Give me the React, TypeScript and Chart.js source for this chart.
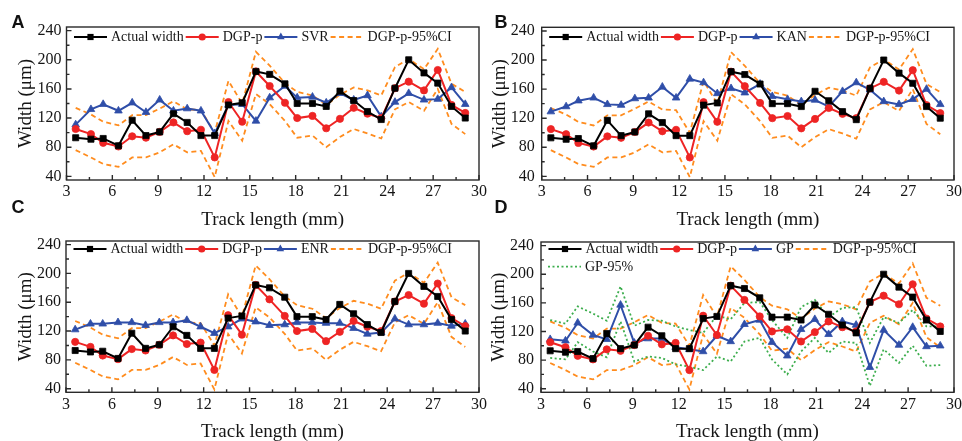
import React, { useEffect, useRef } from "react";
import { Chart, registerables } from "chart.js";

Chart.register(...registerables);

// ---------- data ----------
const trackLength = [3.6, 4.6, 5.4, 6.4, 7.3, 8.2, 9.1, 10.0, 10.9, 11.8, 12.7, 13.6, 14.5, 15.4, 16.3, 17.3, 18.1, 19.1, 20.0, 20.9, 21.8, 22.7, 23.6, 24.5, 25.4, 26.4, 27.3, 28.2, 29.1];
const actualWidth = [93, 91, 92, 82, 117, 96, 101, 126, 114, 96, 96, 138, 141, 184, 180, 167, 140, 140, 136, 157, 144, 129, 118, 161, 200, 182, 168, 136, 120];
const dgpP = [105, 98, 86, 81, 95, 93, 101, 114, 102, 104, 66, 142, 115, 184, 164, 141, 120, 123, 106, 119, 134, 126, 120, 161, 170, 158, 186, 138, 127];
const dgpUpper = [134, 125, 115, 110, 124, 124, 133, 143, 132, 131, 100, 171, 140, 211, 192, 168, 156, 151, 138, 152, 162, 158, 151, 190, 201, 187, 215, 167, 156];
const dgpLower = [76, 66, 57, 53, 66, 66, 73, 84, 73, 75, 39, 116, 89, 153, 139, 116, 93, 96, 80, 94, 105, 99, 92, 132, 142, 130, 160, 112, 98];
const svr = [111, 132, 139, 130, 141, 128, 145, 130, 133, 130, 99, 138, 139, 116, 148, 164, 148, 149, 141, 154, 145, 151, 122, 142, 154, 145, 146, 162, 139];
const kan = [129, 136, 144, 148, 139, 138, 147, 148, 163, 148, 174, 169, 154, 161, 155, 167, 150, 146, 143, 145, 136, 157, 169, 159, 143, 139, 146, 160, 139];
const enr = [122, 130, 130, 132, 132, 128, 132, 132, 135, 126, 117, 126, 137, 133, 128, 129, 132, 132, 131, 131, 124, 116, 118, 137, 129, 129, 131, 127, 130];
const gp = [109, 107, 132, 115, 109, 157, 104, 110, 110, 98, 95, 92, 114, 106, 130, 136, 105, 86, 123, 137, 116, 134, 129, 70, 122, 101, 126, 99, 100];
const gpUpper = [136, 131, 155, 145, 135, 183, 128, 136, 135, 127, 122, 118, 142, 137, 160, 161, 136, 111, 154, 164, 140, 153, 154, 104, 140, 132, 150, 127, 127];
const gpLower = [83, 81, 105, 92, 84, 134, 78, 85, 83, 74, 71, 66, 85, 78, 106, 111, 81, 60, 92, 111, 90, 106, 104, 44, 95, 76, 100, 72, 73];

const xTicks = [3, 6, 9, 12, 15, 18, 21, 24, 27, 30];
const yTicks = [40, 80, 120, 160, 200, 240];

const xTitle = "Track length (mm)";
const yTitle = "Width (\u03bcm)";

// ---------- styles ----------
const BLACK = "#000000";
const RED = "#EE2424";
const BLUE = "#2F4EA8";
const ORANGE = "#FF8C1E";
const GREEN = "#3DAE4E";
const FRAME = "#2a2a2a";
const TEXT = "#151515";
const SERIF = '"Liberation Serif", "Times New Roman", serif';
const TICK_SIZE = 16;
const TITLE_SIZE = 19;
const LEGEND_SIZE = 14;
const DASH = [5, 3.5];
const DOT = [2, 2.5];

type Marker = "rect" | "circle" | "triangle" | "none";
interface LegendItem { label: string; color: string; marker: Marker; dash?: number[]; row: number; }
interface PanelCfg {
  letter: string;
  model: string;
  modelValues: number[];
  withGpBand: boolean;
  canvas: { x: number; y: number; w: number; h: number };
  plot: { l: number; r: number; t: number; b: number };
  yTitleGap: number;
  yTickPad: number;
  legendY: number;
  letterPos: { x: number; y: number };
}

const panels: PanelCfg[] = [
  { letter: "A", model: "SVR", modelValues: svr, withGpBand: false,
    canvas: { x: 0, y: 0, w: 495, h: 240 }, plot: { l: 66.5, r: 479, t: 27, b: 180 },
    yTitleGap: 40, yTickPad: 5, legendY: 37, letterPos: { x: 11.5, y: 12.6 } },
  { letter: "B", model: "KAN", modelValues: kan, withGpBand: false,
    canvas: { x: 470, y: 0, w: 500, h: 240 }, plot: { l: 541.7, r: 954, t: 27.3, b: 180 },
    yTitleGap: 42, yTickPad: 7, legendY: 37, letterPos: { x: 494.5, y: 12.6 } },
  { letter: "C", model: "ENR", modelValues: enr, withGpBand: false,
    canvas: { x: 0, y: 205, w: 495, h: 250 }, plot: { l: 66, r: 479, t: 241, b: 392.3 },
    yTitleGap: 40, yTickPad: 5, legendY: 249, letterPos: { x: 11.5, y: 197.6 } },
  { letter: "D", model: "GP", modelValues: gp, withGpBand: true,
    canvas: { x: 470, y: 205, w: 500, h: 250 }, plot: { l: 541, r: 954, t: 242, b: 392.3 },
    yTitleGap: 42, yTickPad: 7, legendY: 249, letterPos: { x: 494.5, y: 197.6 } },
];

function series(label: string, values: number[], color: string, marker: Marker, dash?: number[]) {
  const radius = marker === "rect" ? 4.3 : marker === "triangle" ? 4.4 : marker === "circle" ? 3.6 : 0;
  return {
    label,
    data: trackLength.map((x, i) => ({ x, y: values[i] })),
    borderColor: color,
    backgroundColor: color,
    borderWidth: dash ? 1.8 : 2,
    borderDash: dash || [],
    pointRadius: radius,
    pointStyle: marker === "none" ? "circle" : marker,
    pointBackgroundColor: color,
    pointBorderColor: color,
    pointBorderWidth: 0.8,
    tension: 0,
    fill: false,
  };
}

function drawMarker(ctx: CanvasRenderingContext2D, m: Marker, x: number, y: number, color: string) {
  ctx.fillStyle = color;
  ctx.beginPath();
  if (m === "rect") {
    ctx.rect(x - 3.1, y - 3.1, 6.2, 6.2);
  } else if (m === "circle") {
    ctx.arc(x, y, 3.6, 0, Math.PI * 2);
  } else if (m === "triangle") {
    const r = 4.4;
    ctx.moveTo(x, y - r);
    ctx.lineTo(x + r * 0.866, y + r * 0.5);
    ctx.lineTo(x - r * 0.866, y + r * 0.5);
    ctx.closePath();
  } else {
    return;
  }
  ctx.fill();
}

function PanelChart({ p }: { p: PanelCfg }) {
  const ref = useRef<HTMLCanvasElement | null>(null);

  useEffect(() => {
    const canvas = ref.current;
    if (!canvas) return;
    const cv = p.canvas;
    const yW = p.plot.l - cv.x;
    const xH = cv.y + cv.h - p.plot.b;
    const titleLH = TITLE_SIZE * 1.2;

    const legendItems: LegendItem[] = [
      { label: "Actual width", color: BLACK, marker: "rect", row: 0 },
      { label: "DGP-p", color: RED, marker: "circle", row: 0 },
      { label: p.model, color: BLUE, marker: "triangle", row: 0 },
      { label: "DGP-p-95%CI", color: ORANGE, marker: "none", dash: DASH, row: 0 },
    ];
    if (p.withGpBand) legendItems.push({ label: "GP-95%", color: GREEN, marker: "none", dash: DOT, row: 1 });

    const datasets: any[] = [
      series("Actual width", actualWidth, BLACK, "rect"),
      series("DGP-p", dgpP, RED, "circle"),
      series(p.model, p.modelValues, BLUE, "triangle"),
    ];
    if (p.withGpBand) {
      datasets.push(series("GP-95%", gpUpper, GREEN, "none", DOT));
      datasets.push(series("GP-95% lower", gpLower, GREEN, "none", DOT));
    }
    datasets.push(series("DGP-p-95%CI", dgpUpper, ORANGE, "none", DASH));
    datasets.push(series("DGP-p-95%CI lower", dgpLower, ORANGE, "none", DASH));

    const decor = {
      id: "decor" + p.letter,
      afterDraw(chart: any) {
        const { ctx, chartArea: a } = chart;
        const xs = chart.scales.x;
        const ys = chart.scales.y;
        ctx.save();
        ctx.strokeStyle = FRAME;
        ctx.lineWidth = 1.4;
        ctx.setLineDash([]);
        ctx.beginPath();
        const xv = xs.ticks.map((t: any) => t.value);
        xv.forEach((v: number, i: number) => {
          const px = xs.getPixelForValue(v);
          ctx.moveTo(px, a.bottom);
          ctx.lineTo(px, a.bottom - 5);
          if (i < xv.length - 1) {
            const m = xs.getPixelForValue((v + xv[i + 1]) / 2);
            ctx.moveTo(m, a.bottom);
            ctx.lineTo(m, a.bottom - 3);
          }
        });
        const yv = ys.ticks.map((t: any) => t.value);
        yv.forEach((v: number, i: number) => {
          const py = ys.getPixelForValue(v);
          ctx.moveTo(a.left, py);
          ctx.lineTo(a.left + 5, py);
          if (i < yv.length - 1) {
            const m = ys.getPixelForValue((v + yv[i + 1]) / 2);
            ctx.moveTo(a.left, m);
            ctx.lineTo(a.left + 3, m);
          }
        });
        ctx.stroke();
        ctx.strokeRect(a.left, a.top, a.right - a.left, a.bottom - a.top);

        // legend
        ctx.font = `${LEGEND_SIZE}px ${SERIF}`;
        ctx.textBaseline = "middle";
        ctx.textAlign = "left";
        const cursors = [a.left + 7.5, a.left + 7];
        const rowY = [p.legendY - cv.y, p.legendY - cv.y + 17.7];
        legendItems.forEach((it) => {
          const x = cursors[it.row];
          const y = rowY[it.row];
          ctx.strokeStyle = it.color;
          ctx.lineWidth = it.dash ? 1.8 : 2;
          ctx.setLineDash(it.dash || []);
          ctx.beginPath();
          ctx.moveTo(x, y);
          ctx.lineTo(x + 33, y);
          ctx.stroke();
          ctx.setLineDash([]);
          drawMarker(ctx, it.marker, x + 16.5, y, it.color);
          ctx.fillStyle = TEXT;
          ctx.fillText(it.label, x + 37, y + 0.5);
          cursors[it.row] = x + 37 + ctx.measureText(it.label).width + 2;
        });
        ctx.restore();
      },
    };

    const tickFont = { family: SERIF, size: TICK_SIZE };
    const titleFont = { family: SERIF, size: TITLE_SIZE };

    const chart = new Chart(canvas, {
      type: "line",
      data: { datasets },
      options: {
        animation: false,
        responsive: false,
        devicePixelRatio: 1,
        layout: { padding: { left: 0, top: p.plot.t - cv.y, right: cv.x + cv.w - p.plot.r, bottom: 0 } },
        plugins: { legend: { display: false }, tooltip: { enabled: false }, title: { display: false } },
        scales: {
          x: {
            type: "linear",
            min: 3,
            max: 30,
            afterBuildTicks: (s: any) => { s.ticks = xTicks.map((v) => ({ value: v })); },
            afterFit: (s: any) => { s.height = xH; },
            grid: { display: false, drawTicks: false },
            border: { display: false },
            ticks: { padding: 2.5, font: tickFont, color: TEXT, maxRotation: 0, autoSkip: false },
            title: { display: true, text: xTitle, font: titleFont, color: TEXT,
              padding: { top: 0, bottom: xH - 40 - titleLH / 2 } },
          },
          y: {
            type: "linear",
            min: 35,
            max: 245,
            afterBuildTicks: (s: any) => { s.ticks = yTicks.map((v) => ({ value: v })); },
            afterFit: (s: any) => { s.width = yW; },
            grid: { display: false, drawTicks: false },
            border: { display: false },
            ticks: { padding: p.yTickPad, font: tickFont, color: TEXT, autoSkip: false },
            title: { display: true, text: yTitle, font: titleFont, color: TEXT,
              padding: { top: yW - p.yTitleGap - titleLH / 2, bottom: 0 } },
          },
        },
      } as any,
      plugins: [decor],
    });
    return () => chart.destroy();
  }, [p]);

  return (
    <canvas
      ref={ref}
      width={p.canvas.w}
      height={p.canvas.h}
      style={{ position: "absolute", left: p.canvas.x, top: p.canvas.y, width: p.canvas.w, height: p.canvas.h }}
    />
  );
}

export default function App() {
  return (
    <div style={{ position: "absolute", left: 0, top: 0, width: 962, height: 441, overflow: "hidden", background: "#ffffff" }}>
      {panels.map((p) => (
        <PanelChart key={p.letter} p={p} />
      ))}
      {panels.map((p) => (
        <div
          key={"L" + p.letter}
          style={{
            position: "absolute",
            left: p.letterPos.x,
            top: p.letterPos.y,
            fontFamily: '"Liberation Sans", Arial, sans-serif',
            fontWeight: 700,
            fontSize: 18,
            lineHeight: "18px",
            color: "#111",
          }}
        >
          {p.letter}
        </div>
      ))}
    </div>
  );
}
